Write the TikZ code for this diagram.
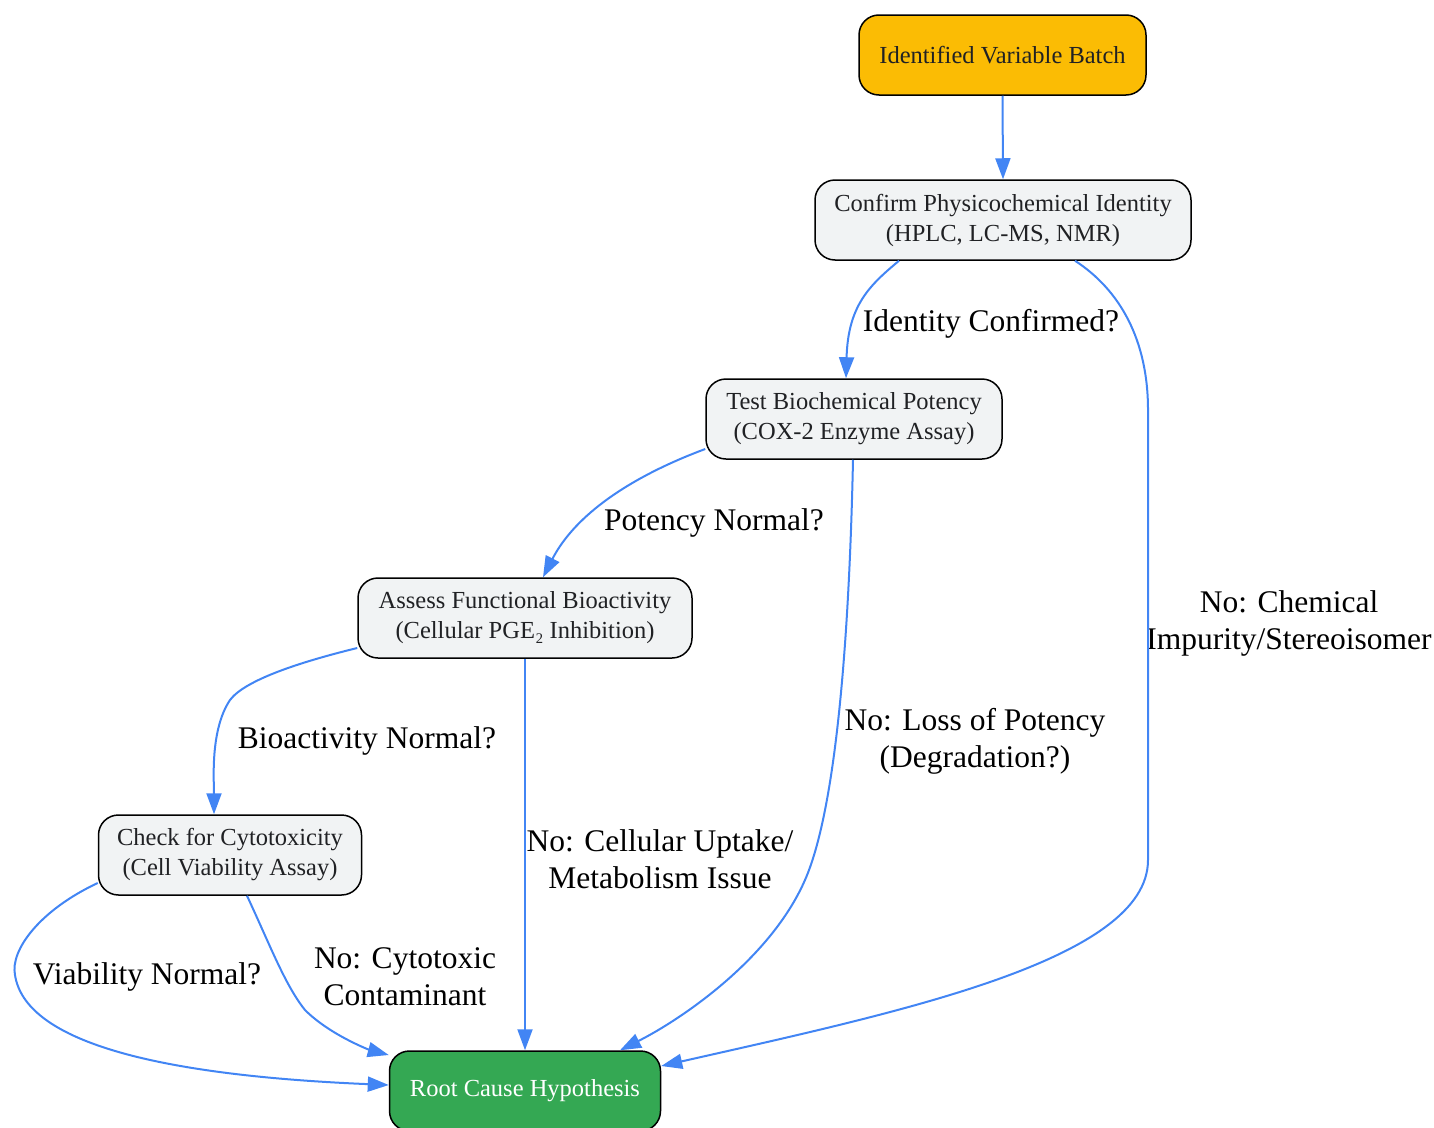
\documentclass[tikz,border=0pt]{standalone}
\usepackage{fontspec}
\setmainfont{Liberation Serif}
\usetikzlibrary{arrows.meta}
\definecolor{edgeblue}{HTML}{4285F4}
\definecolor{boxgray}{HTML}{F1F3F4}
\definecolor{startyellow}{HTML}{FBBC04}
\definecolor{endgreen}{HTML}{34A853}
\definecolor{textdark}{HTML}{202124}
\begin{document}
\begin{tikzpicture}[x=1pt,y=-1pt,
  box/.style={draw=black, line width=1.5pt, rounded corners=20pt, minimum height=80pt,
    align=center, font=\fontsize{24.5}{30}\selectfont, inner sep=0pt, text=textdark, fill=boxgray},
  conn/.style={draw=edgeblue, line width=2pt, -{Triangle[length=21pt,width=15pt]}},
  lab/.style={font=\fontsize{31.5}{37}\selectfont, align=center, text=black, inner sep=0pt}]
\useasboundingbox (0,0) rectangle (1434,1127);
\node[box, fill=startyellow, minimum width=287pt] (ident) at (1002.5,55) {Identified Variable Batch};
\node[box, minimum width=376pt] (conf) at (1003,220) {Confirm Physicochemical Identity\\(HPLC, LC-MS, NMR)};
\node[box, minimum width=296pt] (test) at (854,419) {Test Biochemical Potency\\(COX-2 Enzyme Assay)};
\node[box, minimum width=334pt] (assess) at (525,618) {Assess Functional Bioactivity\\(Cellular PGE₂ Inhibition)};
\node[box, minimum width=263pt] (check) at (230,855) {Check for Cytotoxicity\\(Cell Viability Assay)};
\node[box, fill=endgreen, text=white, minimum width=271pt] (root) at (525,1091) {Root Cause Hypothesis};

\node[lab] (l1) at (991,324) {Identity Confirmed?};
\node[lab] (l2) at (1289,623) {No: Chemical\\Impurity/Stereoisomer};
\node[lab] (l3) at (714,523) {Potency Normal?};
\node[lab] (l4) at (975,741) {No: Loss of Potency\\(Degradation?)};
\node[lab] (l5) at (367,741) {Bioactivity Normal?};
\node[lab] (l6) at (660,859) {No: Cellular Uptake/\\Metabolism Issue};
\node[lab] (l7) at (147,977) {Viability Normal?};
\node[lab] (l8) at (405,977) {No: Cytotoxic\\Contaminant};

\draw[conn] (ident.south) -- (conf.north);
\draw[conn] ([xshift=-104pt]conf.south) .. controls (870,285) and (848,305) .. ([xshift=-8pt]test.north);
\draw[conn] ([xshift=72pt]conf.south) .. controls (1120,290) and (1148,340) .. (1148,410) -- (1148,860) .. controls (1148,960) and (900,1012) .. ([yshift=25pt]root.east);
\draw[conn] ([yshift=-30pt]test.west) .. controls (630,477) and (575,515) .. ([xshift=18pt]assess.north);
\draw[conn] ([xshift=-1pt]test.south) .. controls (850,600) and (840,800) .. (805,880) .. controls (770,960) and (680,1020) .. ([xshift=95pt]root.north);
\draw[conn] ([yshift=-30pt]assess.west) .. controls (300,662) and (245,680) .. (230,700) .. controls (210,730) and (214,780) .. ([xshift=-16pt]check.north);
\draw[conn] (assess.south) -- (root.north);
\draw[conn] ([yshift=-28pt]check.west) .. controls (40,910) and (10,950) .. (15,975) .. controls (25,1040) and (150,1075) .. ([yshift=6pt]root.west);
\draw[conn] ([xshift=17pt]check.south) .. controls (270,945) and (285,985) .. (305,1010) .. controls (330,1035) and (370,1050) .. ([yshift=36pt]root.west);
\end{tikzpicture}
\end{document}
